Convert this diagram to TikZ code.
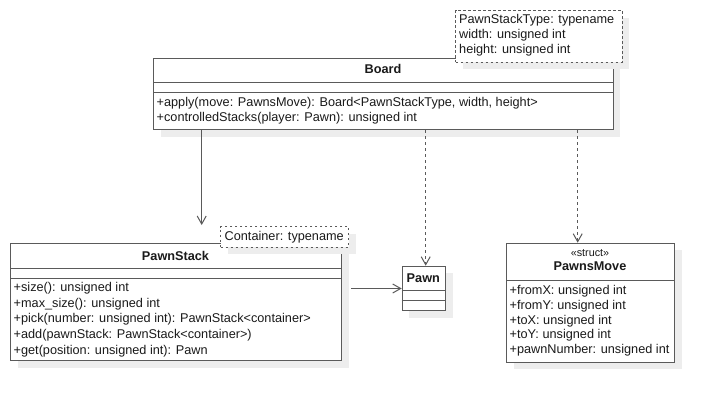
\documentclass[tikz,border=0pt]{standalone}
\usepackage{fontspec}
\setmainfont{Liberation Sans}
\usetikzlibrary{arrows.meta,shadows,calc}
\definecolor{linec}{HTML}{5A5A5A}
\definecolor{txtc}{HTML}{1A1A1A}
\definecolor{shadc}{HTML}{EDEDED}
\begin{document}
\begin{tikzpicture}[x=1pt,y=-1pt,
  umlbox/.style={draw=linec, fill=white, line width=1pt, rectangle, inner sep=0pt, anchor=north west,
    drop shadow={shadow xshift=7pt,shadow yshift=-7pt,fill=shadc,opacity=1}},
  tmplbox/.style={umlbox, dash pattern=on 2.5pt off 2.5pt},
  sep/.style={draw=linec, line width=1pt},
  txt/.style={anchor=west, inner sep=0pt, text=txtc, font=\fontsize{12.7}{14}\selectfont, text height=9pt, text depth=3pt},
  ttl/.style={anchor=center, inner sep=0pt, text=txtc, font=\fontsize{12.7}{14}\selectfont\bfseries, text height=9pt, text depth=3pt},
  stereo/.style={anchor=center, inner sep=0pt, text=txtc, font=\fontsize{10.8}{12}\selectfont, text height=7.5pt, text depth=2.5pt},
  assoc/.style={draw=linec, line width=1pt, -{Straight Barb[length=8pt,width=9pt]}},
  dep/.style={assoc, dash pattern=on 3pt off 3pt}
]
\useasboundingbox[fill=white] (0,0) rectangle (717,402);

% ---------- Board ----------
\node[umlbox, minimum width=459.7pt, minimum height=71pt] (board) at (153,58) {};
\draw[sep] ($(board.north west)+(0,24.5)$) -- ($(board.north east)+(0,24.5)$);
\draw[sep] ($(board.north west)+(0,34.5)$) -- ($(board.north east)+(0,34.5)$);
\node[ttl] (boardT) at (383,70.5) {Board};
\node[txt] (boardM1) at (156.5,103.7) {+apply(move: PawnsMove): Board<PawnStackType, width, height>};
\node[txt] (boardM2) at (156.5,118.3) {+controlledStacks(player: Pawn): unsigned int};

% template of Board
\node[tmplbox, minimum width=166.7pt, minimum height=51.7pt] (boardTpl) at (455,10) {};
\node[txt] (tpl1) at (459,20.7) {PawnStackType: typename};
\node[txt] (tpl2) at (459,35.7) {width: unsigned int};
\node[txt] (tpl3) at (459,50.3) {height: unsigned int};

% ---------- PawnStack ----------
\node[umlbox, minimum width=331pt, minimum height=117.3pt] (pawnstack) at (10,243) {};
\draw[sep] ($(pawnstack.north west)+(0,25.3)$) -- ($(pawnstack.north east)+(0,25.3)$);
\draw[sep] ($(pawnstack.north west)+(0,35.3)$) -- ($(pawnstack.north east)+(0,35.3)$);
\node[ttl] (psT) at (175.5,257) {PawnStack};
\node[txt] (psM1) at (13.5,288.5) {+size(): unsigned int};
\node[txt] (psM2) at (13.5,304) {+max\_size(): unsigned int};
\node[txt] (psM3) at (13.5,319.7) {+pick(number: unsigned int): PawnStack<container>};
\node[txt] (psM4) at (13.5,335.3) {+add(pawnStack: PawnStack<container>)};
\node[txt] (psM5) at (13.5,351) {+get(position: unsigned int): Pawn};

% template of PawnStack
\node[tmplbox, minimum width=128pt, minimum height=20.7pt] (psTpl) at (220,226) {};
\node[txt] (psTplT) at (224.5,237.3) {Container: typename};

% ---------- Pawn ----------
\node[umlbox, minimum width=43.3pt, minimum height=44.3pt] (pawn) at (401.7,265.7) {};
\draw[sep] ($(pawn.north west)+(0,25)$) -- ($(pawn.north east)+(0,25)$);
\draw[sep] ($(pawn.north west)+(0,35)$) -- ($(pawn.north east)+(0,35)$);
\node[ttl] (pawnT) at (423.3,279.5) {Pawn};

% ---------- PawnsMove ----------
\node[umlbox, minimum width=168pt, minimum height=119pt] (pawnsmove) at (506,242.7) {};
\draw[sep] ($(pawnsmove.north west)+(0,37.3)$) -- ($(pawnsmove.north east)+(0,37.3)$);
\node[stereo] (pmS) at (590,253.5) {«struct»};
\node[ttl] (pmT) at (590,267.7) {PawnsMove};
\node[txt] (pmA1) at (509.5,291.5) {+fromX: unsigned int};
\node[txt] (pmA2) at (509.5,306) {+fromY: unsigned int};
\node[txt] (pmA3) at (509.5,321) {+toX: unsigned int};
\node[txt] (pmA4) at (509.5,335.5) {+toY: unsigned int};
\node[txt] (pmA5) at (509.5,350.5) {+pawnNumber: unsigned int};

% ---------- connectors ----------
\coordinate (psTip) at (201.7,225);
\coordinate (psOut) at (351,288.5);
\coordinate (xPawn) at (425.7,0);
\coordinate (xMove) at (577.7,0);

\draw[assoc] (board.south -| psTip) -- (psTip);
\draw[assoc] (psOut) -- (psOut -| pawn.west);
\draw[dep] (board.south -| xPawn) -- (pawn.north -| xPawn);
\draw[dep] (board.south -| xMove) -- (pawnsmove.north -| xMove);
\end{tikzpicture}
\end{document}
